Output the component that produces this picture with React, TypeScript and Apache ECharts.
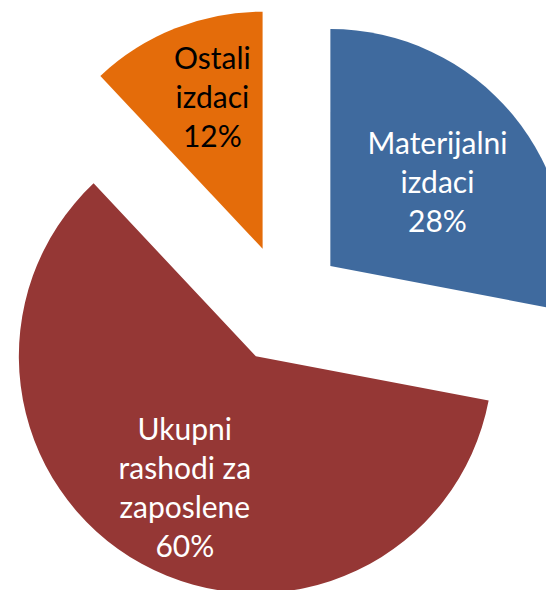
import React, { useEffect, useRef } from "react";
import * as echarts from "echarts";

const categories = ["Materijalni izdaci", "Ukupni rashodi za zaposlene", "Ostali izdaci"];
const labelLines = ["Materijalni\nizdaci", "Ukupni\nrashodi za\nzaposlene", "Ostali\nizdaci"];
const values = [28, 60, 12];
const colors = ["#3F6A9E", "#953735", "#E46C0A"];
const labelColors = ["#FFFFFF", "#FFFFFF", "#000000"];
// horizontal nudge padding [top, right, bottom, left] and vertical spacer (px, + = move down)
const labelPaddings = [[0, 0, 0, 27], [0, 25, 0, 0], [0, 11, 0, 0]];
const labelShiftY = [-8, 24, -40];

export default function App() {
  const ref = useRef<HTMLDivElement>(null);
  useEffect(() => {
    document.body.style.margin = "0";
    const chart = echarts.init(ref.current!, null, { renderer: "svg" });
    chart.setOption({
      animation: false,
      backgroundColor: "#FFFFFF",
      series: [
        {
          type: "pie",
          center: [284.5, 304],
          radius: 237,
          startAngle: 90,
          clockwise: true,
          selectedMode: "multiple",
          selectedOffset: 59.5,
          avoidLabelOverlap: false,
          emphasis: { disabled: true },
          labelLine: { show: false },
          data: categories.map((name, i) => ({
            name,
            value: values[i],
            selected: true,
            itemStyle: { color: colors[i] },
            label: {
              show: true,
              position: "inside",
              padding: labelPaddings[i],
              color: labelColors[i],
              fontFamily: "Lato",
              fontSize: 30,
              lineHeight: 39,
              align: "center",
              verticalAlign: "middle",
              rich: {
                sp: { lineHeight: Math.abs(labelShiftY[i]) * 2, fontSize: 1 },
              },
              formatter: () => {
                const body = `${labelLines[i]}\n${Math.round(values[i])}%`;
                return labelShiftY[i] > 0 ? `{sp| }\n${body}` : `${body}\n{sp| }`;
              },
            },
          })),
        },
      ],
    });
    return () => chart.dispose();
  }, []);
  return <div ref={ref} style={{ width: 546, height: 590 }} />;
}
